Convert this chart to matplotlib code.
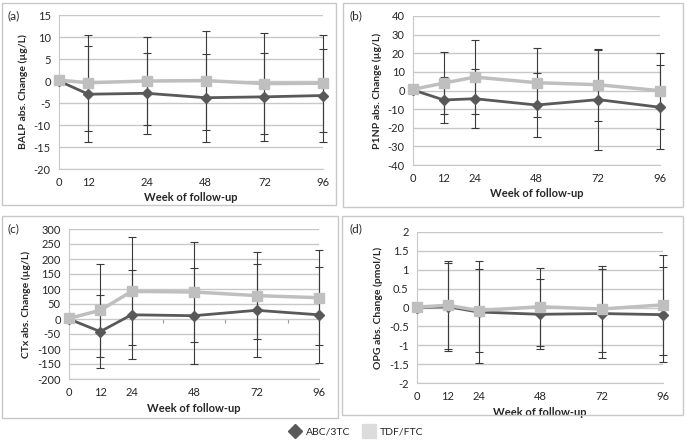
import numpy as np
import matplotlib.pyplot as plt
from matplotlib.lines import Line2D
from matplotlib.patches import Rectangle
from matplotlib.ticker import FormatStrFormatter

plt.rcParams['font.family'] = ['Lato', 'DejaVu Sans']
plt.rcParams['axes.unicode_minus'] = False

# ---- data ----
weeks = [0, 12, 24, 48, 72, 96]
week_labels = ['0', '12', '24', '48', '72', '96']
# panel (a) came from a category axis, so its weeks are not evenly scaled
a_positions = [0, 0.5, 1.5, 2.5, 3.5, 4.5]

series_names = ['ABC/3TC', 'TDF/FTC']

balp_abc = [0, -3.0, -2.8, -3.8, -3.6, -3.3]
balp_abc_err = [0, 10.9, 9.2, 10.0, 10.0, 10.5]
balp_tdf = [0.2, -0.4, 0.0, 0.1, -0.6, -0.5]
balp_tdf_err = [0, 10.9, 10.1, 11.3, 11.5, 11.0]

p1np_abc = [0.3, -5.1, -4.4, -7.8, -4.9, -9.0]
p1np_abc_err = [0, 12.4, 15.8, 17.3, 26.8, 22.5]
p1np_tdf = [0.6, 4.0, 7.2, 4.2, 3.1, -0.1]
p1np_tdf_err = [0, 16.7, 20.0, 18.5, 19.3, 20.4]

ctx_abc = [0, -42, 14, 11, 29, 14]
ctx_abc_err = [0, 122, 148, 160, 155, 161]
ctx_tdf = [2, 29, 92, 90, 78, 71]
ctx_tdf_err = [0, 155, 180, 168, 145, 158]

opg_abc = [0, 0.02, -0.12, -0.18, -0.16, -0.19]
opg_abc_err = [0, 1.17, 1.36, 0.93, 1.19, 1.25]
opg_tdf = [0.01, 0.06, -0.08, 0.02, -0.04, 0.07]
opg_tdf_err = [0, 1.17, 1.10, 1.03, 1.15, 1.32]

W, H = 687, 442
DARK = '#595959'
LIGHT = '#bfbfbf'
GRID = '#c8c8c8'
BAR = '#3a3a3a'
TXT = '#262626'


def px_rect(left, top, right, bottom):
    # pixel box (y down) -> figure fraction rect
    return [left / W, (H - bottom) / H, (right - left) / W, (bottom - top) / H]


def draw_panel(fig, rect, x, xlim, abc, abc_err, tdf, tdf_err, ylim, ystep, ylabel):
    ax = fig.add_axes(px_rect(*rect))
    ax.set_xlim(*xlim)
    ax.set_ylim(*ylim)
    ax.set_yticks(np.arange(ylim[0], ylim[1] + ystep / 2, ystep))
    ax.yaxis.set_major_formatter(FormatStrFormatter('%g'))
    ax.set_xticks(x)
    ax.set_xticklabels(week_labels)
    ax.yaxis.grid(True, color=GRID, lw=1.0)
    ax.set_axisbelow(True)
    for s in ['top', 'right']:
        ax.spines[s].set_visible(False)
    ax.spines['left'].set_color(GRID)
    ax.spines['bottom'].set_color(GRID)
    ax.tick_params(length=0, labelsize=8, colors=TXT, pad=6)
    ax.set_ylabel(ylabel, fontsize=7.5, fontweight='bold', color=TXT, labelpad=4)
    ax.set_xlabel('Week of follow-up', fontsize=8, fontweight='bold', color=TXT, labelpad=3)

    # error bars (none at baseline)
    for y, e in [(abc, abc_err), (tdf, tdf_err)]:
        ax.errorbar(x[1:], y[1:], yerr=e[1:], fmt='none', ecolor=BAR,
                    elinewidth=0.8, capsize=2.8, capthick=0.8, zorder=3, clip_on=False)

    ax.plot(x, abc, color=DARK, lw=2, marker='D', ms=5.5, zorder=4, clip_on=False)
    ax.plot(x, tdf, color=LIGHT, lw=2.5, marker='s', ms=7, zorder=5, clip_on=False)
    return ax


fig = plt.figure(figsize=(W / 100, H / 100), dpi=100)

# panel frames
for l, t, r, b in [(2, 3, 336, 205), (343, 3, 683, 207), (2, 216, 338, 418), (342, 216, 683, 415)]:
    fig.patches.append(Rectangle((l / W, (H - b) / H), (r - l) / W, (b - t) / H,
                                 transform=fig.transFigure, fill=False,
                                 edgecolor='#c8c8c8', lw=1.0))

draw_panel(fig, (59, 15, 323, 169), a_positions, (0, 4.5),
           balp_abc, balp_abc_err, balp_tdf, balp_tdf_err,
           (-20, 15), 5, 'BALP abs. Change (µg/L)')
draw_panel(fig, (413, 16, 660, 165), weeks, (0, 96),
           p1np_abc, p1np_abc_err, p1np_tdf, p1np_tdf_err,
           (-40, 40), 10, 'P1NP abs. Change (µg/L)')
axc = draw_panel(fig, (69, 229, 319, 379), weeks, (0, 96),
                 ctx_abc, ctx_abc_err, ctx_tdf, ctx_tdf_err,
                 (-200, 300), 50, 'CTx abs. Change (µg/L)')
draw_panel(fig, (417, 232, 663, 383), weeks, (0, 96),
           opg_abc, opg_abc_err, opg_tdf, opg_tdf_err,
           (-2, 2), 0.5, 'OPG abs. Change (pmol/L)')

# panel (c): horizontal axis crosses at zero with small tick marks
sec = axc.secondary_xaxis(200 / 500)
sec.set_xticks(np.arange(0, 97, 12))
sec.tick_params(length=3, width=0.8, colors='#9a9a9a', labelbottom=False, labeltop=False,
                direction='out')
sec.spines['bottom'].set_visible(False)
sec.spines['top'].set_visible(False)

for lab, (xp, yp) in zip(['(a)', '(b)', '(c)', '(d)'], [(8, 16), (350, 16), (8, 229), (350, 229)]):
    fig.text(xp / W, 1 - yp / H, lab, fontsize=8.5, color=TXT, va='center', ha='left')

handles = [Line2D([], [], color=DARK, marker='D', ls='none', ms=7),
           Line2D([], [], color='#dcdcdc', marker='s', ls='none', ms=10)]
fig.legend(handles, series_names, loc='center', bbox_to_anchor=(356 / W, 1 - 432 / H),
           ncol=2, frameon=False, fontsize=7.5, handletextpad=0.4, columnspacing=1.2,
           handlelength=1.2, labelcolor=TXT)

fig.savefig('out.png', dpi=100, facecolor='white')
